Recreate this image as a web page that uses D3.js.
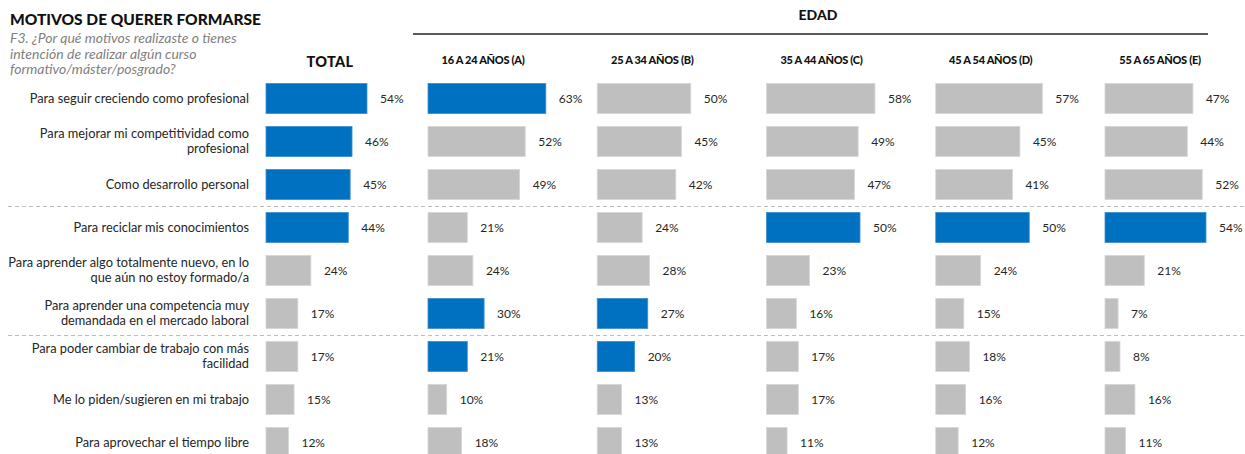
<!DOCTYPE html>
<html lang="es">
<head>
    <meta charset="UTF-8">
    <title>Motivos de querer formarse</title>
    <script src="https://d3js.org/d3.v7.min.js"></script>
    <style>
        body { margin: 0; background: #fff; }
        text { font-family: Lato, "Open Sans", sans-serif; }
    </style>
</head>
<body>
<svg width="1245" height="454"></svg>
<script>

    // motivos (una entrada por fila, con saltos de línea)
    const motivos = [
        ["Para seguir creciendo como profesional"],
        ["Para mejorar mi competitividad como", "profesional"],
        ["Como desarrollo personal"],
        ["Para reciclar mis conocimientos"],
        ["Para aprender algo totalmente nuevo, en lo", "que aún no estoy formado/a"],
        ["Para aprender una competencia muy", "demandada en el mercado laboral"],
        ["Para poder cambiar de trabajo con más", "facilidad"],
        ["Me lo piden/sugieren en mi trabajo"],
        ["Para aprovechar el tiempo libre"]
    ];

    const grupos = ["TOTAL", "16 A 24 AÑOS (A)", "25 A 34 AÑOS (B)", "35 A 44 AÑOS (C)", "45 A 54 AÑOS (D)", "55 A 65 AÑOS (E)"];

    const total    = [54, 46, 45, 44, 24, 17, 17, 15, 12];
    const edad1624 = [63, 52, 49, 21, 24, 30, 21, 10, 18];
    const edad2534 = [50, 45, 42, 24, 28, 27, 20, 13, 13];
    const edad3544 = [58, 49, 47, 50, 23, 16, 17, 17, 11];
    const edad4554 = [57, 45, 41, 50, 24, 15, 18, 16, 12];
    const edad5565 = [47, 44, 52, 54, 21,  7,  8, 16, 11];

    // filas destacadas en azul para cada grupo
    const destTotal    = [0, 1, 2, 3];
    const dest1624     = [0, 5, 6];
    const dest2534     = [5, 6];
    const dest3544     = [3];
    const dest4554     = [3];
    const dest5565     = [3];

    const series = [
        {grupo: grupos[0], valores: total,    dest: destTotal},
        {grupo: grupos[1], valores: edad1624, dest: dest1624},
        {grupo: grupos[2], valores: edad2534, dest: dest2534},
        {grupo: grupos[3], valores: edad3544, dest: dest3544},
        {grupo: grupos[4], valores: edad4554, dest: dest4554},
        {grupo: grupos[5], valores: edad5565, dest: dest5565}
    ];

    const azul = "#0070c0", gris = "#bfbfbf";

    const svg = d3.select("svg");

    const y = d3.scaleBand()
        .domain(d3.range(motivos.length))
        .range([77, 464])
        .paddingInner(0.3)
        .paddingOuter(0.15);

    const x = d3.scaleLinear().domain([0, 100]).range([0, 187]);

    const panelEdad = d3.scalePoint().domain(grupos.slice(1)).range([428, 1105]);
    const panelX = g => g === "TOTAL" ? 266 : panelEdad(g);

    // título
    svg.append("text")
        .attr("x", 10).attr("y", 25)
        .style("font-size", "15.5px").style("font-weight", 900).style("fill", "#111")
        .text("MOTIVOS DE QUERER FORMARSE");

    const sub = ["F3. ¿Por qué motivos realizaste o tienes",
                 "intención de realizar algún curso",
                 "formativo/máster/posgrado?"];
    svg.append("g").selectAll("text")
        .data(sub).enter().append("text")
        .attr("x", 10).attr("y", (d, i) => 43 + i * 15.5)
        .style("font-size", "14px").style("font-style", "italic").style("fill", "#7f7f7f")
        .text(d => d);

    // cabecera EDAD
    svg.append("text")
        .attr("x", 818).attr("y", 20)
        .attr("text-anchor", "middle")
        .style("font-size", "14px").style("font-weight", 900).style("fill", "#111")
        .text("EDAD");
    svg.append("line")
        .attr("x1", 413).attr("x2", 1208).attr("y1", 34).attr("y2", 34)
        .attr("stroke", "#222").attr("stroke-width", 1.5);

    // cabeceras de columna
    svg.append("g").selectAll("text")
        .data(grupos).enter().append("text")
        .attr("x", d => d === "TOTAL" ? 330 : panelX(d) + 55)
        .attr("y", d => d === "TOTAL" ? 67 : 64)
        .attr("text-anchor", "middle")
        .style("font-size", d => d === "TOTAL" ? "14.5px" : "11px")
        .style("font-weight", 900)
        .style("letter-spacing", d => d === "TOTAL" ? "0.3px" : "-0.3px")
        .style("fill", "#111")
        .text(d => d);

    // separadores
    [3, 6].forEach(i => {
        const yy = Math.round(y(i) - y.step() * y.paddingInner() / 2) + 0.5;
        svg.append("line")
            .attr("x1", 8).attr("x2", 1245).attr("y1", yy).attr("y2", yy)
            .attr("stroke", "#bdbdbd").attr("stroke-width", 1)
            .attr("stroke-dasharray", "4,3");
    });

    // etiquetas de motivos
    const etiquetas = svg.append("g").selectAll("text")
        .data(motivos).enter().append("text")
        .attr("text-anchor", "end")
        .style("font-size", "12.8px").style("fill", "#262626");
    etiquetas.each(function(lineas, i) {
        const cy = y(i) + y.bandwidth() / 2;
        const t = d3.select(this);
        lineas.forEach((l, j) => {
            t.append("tspan")
                .attr("x", 249)
                .attr("y", cy + (j - (lineas.length - 1) / 2) * 15)
                .attr("dy", "0.35em")
                .text(l);
        });
    });

    // barras y valores
    series.forEach(s => {
        const g = svg.append("g").attr("transform", `translate(${panelX(s.grupo)},0)`);
        g.selectAll("rect")
            .data(s.valores).enter().append("rect")
            .attr("x", 0)
            .attr("y", (d, i) => y(i))
            .attr("width", d => x(d))
            .attr("height", y.bandwidth())
            .attr("fill", (d, i) => s.dest.includes(i) ? azul : gris)
            .attr("stroke", (d, i) => s.dest.includes(i) ? "#3d8fd0" : "#d6d6d6")
            .attr("stroke-width", 0.8);
        g.selectAll("text")
            .data(s.valores).enter().append("text")
            .attr("x", d => x(d) + 13)
            .attr("y", (d, i) => y(i) + y.bandwidth() / 2)
            .attr("dy", "0.35em")
            .style("font-size", "12px").style("fill", "#262626")
            .text(d => d + "%");
    });

</script>
</body>
</html>
